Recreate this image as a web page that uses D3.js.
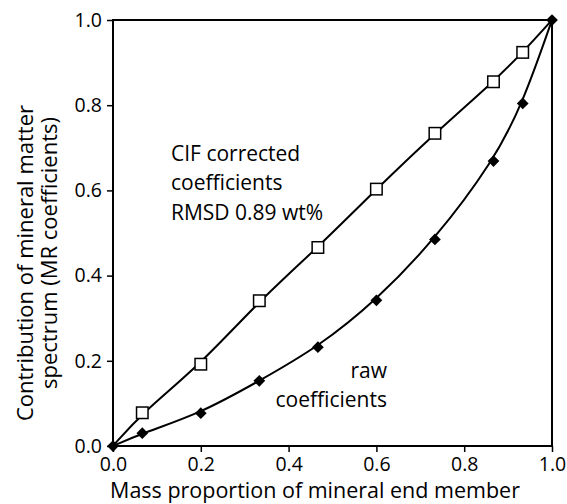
<!DOCTYPE html>
<html><head><meta charset="utf-8">
<script src="https://cdn.jsdelivr.net/npm/d3@7"></script>
<style>body{margin:0;background:#fff}svg text{font-family:"Open Sans",sans-serif;fill:#000}</style>
</head><body><svg id="c" width="567" height="504"></svg>
<script>
const proportions = [0.0667, 0.2, 0.3333, 0.4667, 0.6, 0.7333, 0.8667, 0.9333];
const cifValues = [0.078, 0.192, 0.341, 0.466, 0.603, 0.734, 0.855, 0.924];
const rawValues = [0.030, 0.077, 0.153, 0.232, 0.342, 0.485, 0.669, 0.804];
const endX = [0, 1];
const endY = [0, 1];
const tickValues = [0, 0.2, 0.4, 0.6, 0.8, 1.0];

const svg = d3.select("#c");
const x = d3.scaleLinear().domain([0, 1]).range([113, 552]);
const y = d3.scaleLinear().domain([0, 1]).range([446, 20]);
const fsTick = 19.5, fs = 21;

const gx = svg.append("g").attr("transform", `translate(0,${y(0)})`)
  .call(d3.axisBottom(x).tickValues(tickValues).tickFormat(d3.format(".1f")).tickSize(6).tickPadding(5));
const gy = svg.append("g").attr("transform", `translate(${x(0)},0)`)
  .call(d3.axisLeft(y).tickValues(tickValues).tickFormat(d3.format(".1f")).tickSize(6).tickPadding(5));
[gx, gy].forEach(g => {
  g.select(".domain").remove();
  g.selectAll(".tick line").attr("stroke", "#000").attr("stroke-width", 1.5);
  g.selectAll(".tick text").attr("font-size", fsTick).style("font-family", '"Open Sans",sans-serif');
});
// frame
svg.append("rect").attr("x", x(0)).attr("y", y(1)).attr("width", x(1) - x(0)).attr("height", y(0) - y(1))
  .attr("fill", "none").attr("stroke", "#000").attr("stroke-width", 2);

const line = d3.line().x(d => x(d[0])).y(d => y(d[1])).curve(d3.curveBasis);
const cifPts = [[endX[0], endY[0]], ...proportions.map((p, i) => [p, cifValues[i]]), [endX[1], endY[1]]];
const rawPts = [[endX[0], endY[0]], ...proportions.map((p, i) => [p, rawValues[i]]), [endX[1], endY[1]]];
svg.append("path").attr("d", line(cifPts)).attr("fill", "none").attr("stroke", "#000").attr("stroke-width", 2);
svg.append("path").attr("d", line(rawPts)).attr("fill", "none").attr("stroke", "#000").attr("stroke-width", 2);

const sq = 11.5;
svg.selectAll(".sq").data(proportions.map((p, i) => [p, cifValues[i]])).enter().append("rect")
  .attr("x", d => x(d[0]) - sq / 2).attr("y", d => y(d[1]) - sq / 2).attr("width", sq).attr("height", sq)
  .attr("fill", "#fff").attr("stroke", "#000").attr("stroke-width", 1.5);
const dm = d3.symbol().type(d3.symbolDiamond2).size(88);
svg.selectAll(".dm").data(rawPts).enter().append("path")
  .attr("d", dm).attr("transform", d => `translate(${x(d[0])},${y(d[1])})`).attr("fill", "#000");

// annotations
const ann = svg.append("text").attr("font-size", fs);
["CIF corrected", "coefficients", "RMSD 0.89 wt%"].forEach((t, i) =>
  ann.append("tspan").attr("x", 171).attr("y", 161 + i * 29.3).text(t));
const ann2 = svg.append("text").attr("font-size", fs).attr("text-anchor", "end");
["raw", "coefficients"].forEach((t, i) =>
  ann2.append("tspan").attr("x", 387).attr("y", 378 + i * 29).text(t));

svg.append("text").attr("x", 315).attr("y", 498).attr("text-anchor", "middle")
  .attr("font-size", fs + 0.5).text("Mass proportion of mineral end member");
const yt = svg.append("text").attr("transform", "translate(33,258) rotate(-90)").attr("text-anchor", "middle").attr("font-size", fs + 1);
yt.append("tspan").attr("x", -5).attr("y", 0).text("Contribution of mineral matter");
yt.append("tspan").attr("x", 5).attr("y", 24).text("spectrum (MR coefficients)");
</script></body></html>
